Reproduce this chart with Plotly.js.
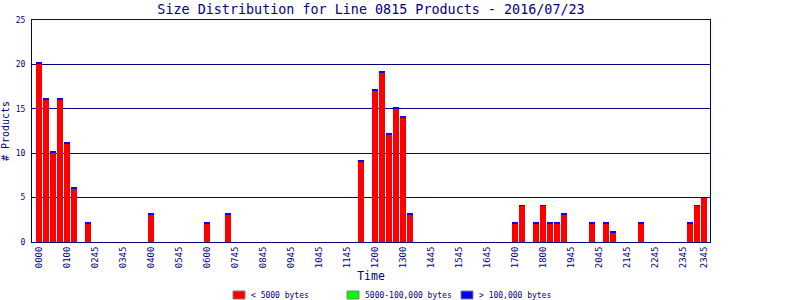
<!DOCTYPE html>
<html>
<head>
<meta charset="utf-8">
<script src="https://cdn.plot.ly/plotly-3.0.1.min.js"></script>
<style>html,body{margin:0;padding:0;background:#fff;}#chart{width:800px;height:300px;}</style>
</head>
<body>
<div id="chart"></div>
<script>
// 15-minute time slots
var times = [
"0000","0015","0030","0045","0100","0115","0130","0145","0200","0215","0230","0245",
"0300","0315","0330","0345","0400","0415","0430","0445","0500","0515","0530","0545",
"0600","0615","0630","0645","0700","0715","0730","0745","0800","0815","0830","0845",
"0900","0915","0930","0945","1000","1015","1030","1045","1100","1115","1130","1145",
"1200","1215","1230","1245","1300","1315","1330","1345","1400","1415","1430","1445",
"1500","1515","1530","1545","1600","1615","1630","1645","1700","1715","1730","1745",
"1800","1815","1830","1845","1900","1915","1930","1945","2000","2015","2030","2045",
"2100","2115","2130","2145","2200","2215","2230","2245","2300","2315","2330","2345"];

// < 5000 bytes
var small = [
20,16,10,16,11,6,0,2,0,0,0,0,
0,0,0,0,3,0,0,0,0,0,0,0,
2,0,0,3,0,0,0,0,0,0,0,0,
0,0,0,0,0,0,0,0,0,0,9,0,
17,19,12,15,14,3,0,0,0,0,0,0,
0,0,0,0,0,0,0,0,2,4,0,2,
4,2,2,3,0,0,0,2,0,2,1,0,
0,0,2,0,0,0,0,0,0,2,4,5];

// 5000-100,000 bytes
var medium = [
0,0,0,0,0,0,0,0,0,0,0,0,
0,0,0,0,0,0,0,0,0,0,0,0,
0,0,0,0,0,0,0,0,0,0,0,0,
0,0,0,0,0,0,0,0,0,0,0,0,
0,0,0,0,0,0,0,0,0,0,0,0,
0,0,0,0,0,0,0,0,0,0,0,0,
0,0,0,0,0,0,0,0,0,0,0,0,
0,0,0,0,0,0,0,0,0,0,0,0];

// > 100,000 bytes (thin caps)
var large = [
0.22,0.22,0.22,0.22,0.22,0.22,0,0.22,0,0,0,0,
0,0,0,0,0.22,0,0,0,0,0,0,0,
0.22,0,0,0.22,0,0,0,0,0,0,0,0,
0,0,0,0,0,0,0,0,0,0,0.22,0,
0.22,0.22,0.22,0.22,0.22,0.22,0,0,0,0,0,0,
0,0,0,0,0,0,0,0,0.22,0.22,0,0.22,
0.22,0.22,0.22,0.22,0,0,0,0.22,0,0.22,0.22,0,
0,0,0.22,0,0,0,0,0,0,0.22,0.22,0];

var tickPositions = ["0000","0100","0200","0300","0400","0500","0600","0700","0800","0900","1000","1100",
"1200","1300","1400","1500","1600","1700","1800","1900","2000","2100","2200","2300","2345"];
var tickLabels = ["0000","0100","0245","0345","0400","0545","0600","0745","0845","0945","1045","1145",
"1200","1300","1445","1545","1645","1700","1800","1945","2045","2145","2245","2345","2345"];

var seriesNames = ["< 5000 bytes", "5000-100,000 bytes", "> 100,000 bytes"];
var seriesColors = ["#ff0000", "#00ff00", "#0000ff"];
var seriesValues = [small, medium, large];

var navy = "#000080";
var mono = "DejaVu Sans Mono, monospace";

var traces = seriesValues.map(function (vals, i) {
  return {type:"bar", name:seriesNames[i], x:times, y:vals, marker:{color:seriesColors[i]}, width:0.86, showlegend:false};
});

// plot area in pixels: left 32, right 710, top 20, bottom 242
function px2x(p) { return (p - 32) / 678; }
function px2y(p) { return (242 - p) / 222; }

var shapes = [], annotations = [];
seriesNames.forEach(function (nm, i) {
  var left = 233 + 114 * i;
  shapes.push({type:"rect", xref:"paper", yref:"paper", x0:px2x(left), x1:px2x(left + 12),
               y0:px2y(299), y1:px2y(291), fillcolor:seriesColors[i], line:{color:"#808080", width:1}, layer:"above"});
  annotations.push({xref:"paper", yref:"paper", x:px2x(left + 16), y:px2y(295.5), xanchor:"left", yanchor:"middle",
                    text:nm, showarrow:false, font:{family:mono, size:8, color:navy}});
});

var layout = {
  width:800, height:300,
  margin:{l:32, r:90, t:20, b:58, autoexpand:false},
  paper_bgcolor:"#ffffff", plot_bgcolor:"#ffffff",
  barmode:"stack", bargap:0,
  showlegend:false,
  title:{text:"Size Distribution for Line 0815 Products - 2016/07/23", font:{family:mono, size:13.4, color:navy},
         xref:"paper", x:0.5, xanchor:"center", yref:"container", y:0.97, yanchor:"middle"},
  font:{family:mono, color:navy},
  xaxis:{type:"category", range:[-1, 95.86], tickmode:"array", tickvals:tickPositions, ticktext:tickLabels,
         tickangle:-90, tickfont:{family:mono, size:9, color:navy}, ticks:"", showgrid:false,
         showline:true, linecolor:navy, linewidth:1, mirror:true, zeroline:false, automargin:false,
         title:{text:"Time", font:{family:mono, size:11.5, color:navy}, standoff:4}},
  yaxis:{range:[0,25], tickvals:[0,5,10,15,20,25], tickfont:{family:mono, size:8, color:navy}, ticks:"",
         showgrid:true, gridcolor:navy, gridwidth:1, showline:true, linecolor:navy, linewidth:1, mirror:true,
         zeroline:false, automargin:false, ticklabelstandoff:4,
         title:{text:"# Products", font:{family:mono, size:10, color:navy}, standoff:6}},
  shapes:shapes,
  annotations:annotations
};

Plotly.newPlot("chart", traces, layout, {staticPlot:true, displayModeBar:false});
</script>
</body>
</html>
